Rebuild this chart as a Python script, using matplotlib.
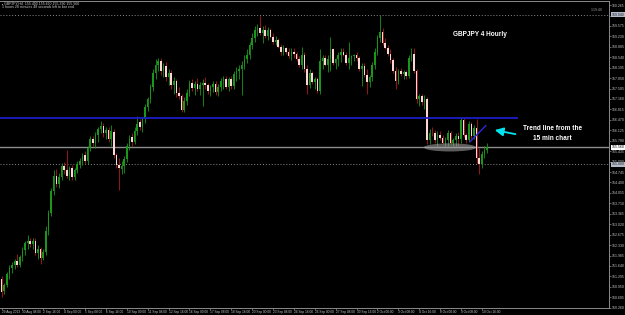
import numpy as np
import matplotlib
matplotlib.use("Agg")
import matplotlib.pyplot as plt
from matplotlib.patches import Ellipse

# GBPJPY H4 candles, oldest first
open_ = [151.21, 150.82, 151.01, 151.37, 151.57, 151.67, 151.80, 151.67, 151.93, 152.16,
         152.39, 152.48, 152.35, 152.48, 152.06, 152.19, 151.90, 152.09, 152.81, 153.40,
         154.12, 154.61, 154.35, 154.58, 154.94, 154.81, 154.61, 154.87, 154.58, 154.81,
         155.00, 155.10, 155.30, 155.10, 155.53, 155.85, 155.69, 155.98, 156.18, 156.28,
         156.02, 156.15, 155.85, 156.08, 155.30, 154.97, 154.84, 154.94, 155.16, 155.59,
         155.92, 155.75, 156.11, 156.41, 156.24, 156.51, 156.90, 157.16, 157.55, 158.01,
         158.27, 158.40, 158.08, 158.24, 157.88, 158.01, 157.62, 157.75, 157.36, 157.26,
         156.80, 157.10, 157.36, 157.68, 157.52, 157.65, 157.49, 157.62, 157.68, 157.62,
         157.42, 157.55, 157.65, 157.39, 157.55, 157.75, 157.81, 157.55, 157.81, 157.58,
         157.98, 158.08, 158.14, 158.27, 158.47, 158.63, 158.93, 159.19, 159.45, 159.51,
         159.35, 159.45, 159.25, 159.45, 159.22, 159.06, 159.12, 158.89, 158.73, 158.83,
         158.73, 158.57, 158.73, 158.66, 158.47, 158.27, 158.63, 158.14, 157.62, 158.01,
         157.72, 157.81, 157.42, 158.40, 158.53, 158.30, 158.47, 158.80, 158.34, 158.47,
         158.63, 158.73, 158.63, 158.34, 158.53, 158.57, 158.63, 158.50, 158.14, 158.24,
         157.95, 157.72, 157.88, 158.27, 158.73, 159.19, 159.38, 159.02, 158.86, 158.66,
         158.44, 158.08, 157.75, 158.08, 157.98, 158.04, 157.91, 158.53, 158.66, 158.08,
         157.16, 157.26, 157.06, 157.16, 155.79, 156.05, 156.02, 155.79, 155.98, 155.88,
         155.69, 155.82, 156.05, 155.72, 155.82, 155.95, 155.85, 156.47, 155.98, 155.82,
         156.34, 155.95, 156.21, 155.20, 155.00, 155.33, 155.49]
high = [151.31, 151.08, 151.44, 151.67, 151.77, 151.86, 152.03, 151.99, 152.26, 152.48,
        152.68, 152.58, 152.55, 152.58, 152.32, 152.26, 152.19, 152.97, 153.50, 154.22,
        154.81, 154.84, 154.71, 155.03, 155.07, 155.46, 154.94, 154.97, 154.87, 155.10,
        155.20, 155.36, 155.43, 155.59, 155.95, 155.95, 156.08, 156.24, 156.44, 156.38,
        156.24, 156.24, 156.31, 156.18, 155.36, 155.20, 155.10, 155.26, 155.69, 155.98,
        156.02, 156.24, 156.60, 156.51, 156.57, 157.00, 157.23, 157.65, 158.14, 158.47,
        158.53, 158.53, 158.34, 158.37, 158.14, 158.11, 157.88, 157.81, 157.55, 157.32,
        157.23, 157.49, 157.78, 157.81, 157.75, 157.85, 157.72, 157.81, 157.88, 157.68,
        157.62, 157.75, 157.75, 157.65, 157.85, 157.91, 157.91, 157.88, 157.91, 158.08,
        158.21, 158.30, 158.40, 158.60, 158.80, 159.06, 159.35, 159.58, 159.65, 159.91,
        159.58, 159.61, 159.55, 159.51, 159.35, 159.25, 159.19, 158.99, 158.93, 158.89,
        158.83, 158.86, 158.86, 158.73, 158.57, 158.89, 158.70, 158.27, 158.14, 158.08,
        157.88, 157.88, 158.80, 158.63, 158.60, 158.60, 159.22, 158.86, 158.53, 158.73,
        158.83, 158.83, 158.73, 159.06, 158.63, 158.66, 158.70, 158.57, 158.34, 158.34,
        158.14, 157.95, 158.37, 158.86, 159.29, 159.94, 159.51, 159.19, 158.93, 158.80,
        158.53, 158.21, 158.14, 158.17, 158.11, 158.11, 158.63, 158.86, 158.83, 158.14,
        157.32, 157.32, 157.29, 157.23, 156.18, 156.24, 156.15, 156.11, 156.11, 155.98,
        155.92, 156.15, 156.11, 155.88, 156.05, 156.08, 156.57, 156.54, 156.05, 156.44,
        156.41, 156.31, 156.51, 155.53, 155.43, 155.59, 155.69]
low = [150.62, 150.72, 150.95, 151.21, 151.41, 151.54, 151.60, 151.60, 151.80, 151.99,
       152.19, 152.26, 152.19, 151.99, 151.86, 151.70, 151.83, 151.99, 152.65, 153.30,
       153.99, 154.25, 154.22, 154.48, 154.67, 154.54, 154.48, 154.48, 154.48, 154.71,
       154.87, 154.97, 155.00, 155.00, 155.43, 155.59, 155.53, 155.75, 156.02, 155.92,
       155.85, 155.75, 155.62, 155.20, 154.87, 154.15, 154.67, 154.71, 155.07, 155.46,
       155.62, 155.66, 155.98, 156.15, 156.08, 156.38, 156.77, 157.03, 157.42, 157.81,
       158.08, 157.95, 157.88, 157.75, 157.62, 157.49, 157.32, 157.23, 157.16, 156.73,
       156.73, 156.96, 157.26, 157.42, 157.29, 157.42, 157.29, 156.93, 157.49, 157.32,
       157.26, 157.39, 157.29, 157.26, 157.42, 157.49, 157.49, 157.42, 157.49, 157.49,
       157.75, 157.81, 157.29, 158.14, 158.34, 158.47, 158.80, 159.06, 159.25, 159.29,
       159.02, 159.19, 159.12, 159.19, 158.99, 158.96, 158.83, 158.60, 158.60, 158.66,
       158.50, 158.44, 158.53, 158.40, 158.21, 158.14, 158.04, 157.32, 157.52, 157.65,
       157.49, 157.36, 157.32, 158.14, 158.24, 158.04, 158.08, 158.27, 158.14, 158.24,
       158.37, 158.57, 158.27, 158.14, 158.30, 158.40, 158.40, 158.08, 157.58, 157.88,
       157.32, 157.55, 157.75, 158.14, 158.63, 159.06, 158.96, 158.80, 158.57, 158.34,
       158.01, 157.49, 157.65, 157.91, 157.81, 157.81, 157.85, 158.40, 158.01, 157.03,
       156.93, 156.96, 156.83, 155.66, 155.66, 155.95, 155.72, 155.62, 155.82, 155.66,
       155.59, 155.62, 155.66, 155.62, 155.59, 155.59, 155.69, 155.92, 155.72, 155.75,
       155.85, 155.85, 155.03, 154.67, 154.87, 155.20, 155.39]
close_ = [150.78, 151.01, 151.37, 151.57, 151.67, 151.80, 151.67, 151.93, 152.16, 152.39,
          152.48, 152.35, 152.48, 152.06, 152.19, 151.90, 152.09, 152.81, 153.40, 154.12,
          154.61, 154.35, 154.58, 154.94, 154.81, 154.61, 154.87, 154.58, 154.81, 155.00,
          155.10, 155.26, 155.10, 155.53, 155.85, 155.69, 155.98, 156.18, 156.28, 156.02,
          156.15, 155.85, 156.11, 155.30, 154.97, 154.87, 154.94, 155.16, 155.59, 155.85,
          155.75, 156.11, 156.34, 156.24, 156.51, 156.90, 157.16, 157.55, 158.01, 158.27,
          158.40, 158.08, 158.24, 157.88, 158.01, 157.62, 157.75, 157.36, 157.26, 156.80,
          157.10, 157.36, 157.68, 157.52, 157.65, 157.49, 157.62, 157.68, 157.62, 157.42,
          157.55, 157.65, 157.39, 157.55, 157.75, 157.81, 157.55, 157.81, 157.58, 157.98,
          158.08, 158.14, 158.27, 158.47, 158.63, 158.93, 159.19, 159.45, 159.51, 159.35,
          159.45, 159.25, 159.45, 159.22, 159.06, 159.12, 158.89, 158.73, 158.83, 158.73,
          158.57, 158.73, 158.66, 158.47, 158.27, 158.63, 158.14, 157.62, 158.01, 157.72,
          157.81, 157.42, 158.40, 158.53, 158.30, 158.47, 158.80, 158.34, 158.47, 158.63,
          158.73, 158.63, 158.34, 158.53, 158.57, 158.63, 158.50, 158.14, 158.24, 157.95,
          157.72, 157.88, 158.27, 158.73, 159.19, 159.38, 159.02, 158.86, 158.66, 158.44,
          158.08, 157.75, 158.08, 157.98, 158.04, 157.91, 158.53, 158.66, 158.08, 157.16,
          157.26, 157.06, 157.16, 155.79, 156.05, 156.02, 155.79, 155.98, 155.88, 155.69,
          155.82, 156.05, 155.72, 155.82, 155.95, 155.85, 156.47, 155.98, 155.82, 156.34,
          155.95, 156.21, 155.20, 155.00, 155.33, 155.49, 155.56]

# axis labels
price_ticks = [150.260, 150.605, 150.950, 151.295, 151.640, 151.985, 152.330, 152.675,
               153.020, 153.365, 153.710, 154.055, 154.400, 154.745, 155.090, 155.435,
               155.780, 156.125, 156.470, 156.815, 157.160, 157.505, 157.850, 158.195,
               158.540, 158.885, 159.230, 159.575, 159.920, 160.265]
time_tick_bars = [0, 8, 16, 24, 32, 40, 48, 56, 64, 72, 80, 88, 96, 104, 112, 120,
                  128, 136, 144, 152, 160, 168, 176, 184]
time_labels = ["29 Aug 2013", "30 Aug 08:00", "2 Sep 16:00", "4 Sep 00:00", "5 Sep 08:00",
               "6 Sep 16:00", "10 Sep 00:00", "11 Sep 08:00", "12 Sep 16:00", "16 Sep 00:00",
               "17 Sep 08:00", "18 Sep 16:00", "20 Sep 00:00", "23 Sep 08:00", "24 Sep 16:00",
               "26 Sep 00:00", "27 Sep 08:00", "30 Sep 16:00", "2 Oct 00:00", "3 Oct 08:00",
               "4 Oct 16:00", "8 Oct 00:00", "9 Oct 08:00", "10 Oct 16:00"]

# drawn objects on the chart
level_top = 159.94      # dotted line at the high
level_blue = 156.54     # blue horizontal line
level_bid = 155.56      # bid line
level_low = 155.00      # dotted line below
trend_x = [179.5, 185.5]
trend_y = [155.75, 156.28]

bull_col = "#1a961a"
bear_body = "#ffd4d4"
bear_wick = "#b01a1a"
small_font = "Liberation Sans"


def main():
    fig = plt.figure(figsize=(6.25, 3.15), dpi=100, facecolor="black")
    ax = fig.add_axes([0.0, 7 / 315, 609 / 625, 307 / 315])
    ax.set_facecolor("black")

    o = np.array(open_)
    h = np.array(high)
    l = np.array(low)
    c = np.array(close_)
    x = np.arange(len(c))
    up = c >= o

    # candles
    ax.vlines(x[up], l[up], h[up], color=bull_col, lw=0.6, zorder=2)
    ax.vlines(x[~up], l[~up], h[~up], color=bear_wick, lw=0.6, zorder=2)
    ax.bar(x[up], c[up] - o[up], bottom=o[up], width=0.6, color=bull_col,
           linewidth=0, zorder=3)
    ax.bar(x[~up], o[~up] - c[~up], bottom=c[~up], width=0.6, color=bear_body,
           linewidth=0, zorder=3)

    # horizontal lines
    ax.axhline(level_top, color="#8a8a8a", lw=0.7, ls=(0, (1, 2)), zorder=1)
    ax.axhline(level_low, color="#8a8a8a", lw=0.7, ls=(0, (1, 2)), zorder=1)
    ax.axhline(level_bid, color="#8c8c8c", lw=1.0, zorder=1)
    ax.hlines(level_blue, -1, 197.9, color="#1c1cc8", lw=1.3, zorder=4)

    # trend line from the 15 min chart + grey ellipse
    ax.plot(trend_x, trend_y, color="#2a2ae0", lw=1.0, zorder=5)
    ax.add_patch(Ellipse((171.8, 155.56), 20, 0.27, facecolor="#a8a8a8",
                         edgecolor="none", alpha=0.55, zorder=4))
    ax.annotate("", xy=(187.9, 156.15), xytext=(197.9, 155.98),
                arrowprops=dict(arrowstyle="-|>,head_length=0.5,head_width=0.25",
                                color="#00e5ee", lw=1.3), zorder=6)

    ax.text(183.3, 159.29, "GBPJPY 4 Hourly", color="white", fontsize=4.7,
            fontweight="bold", family="Liberation Sans", ha="center", va="center")
    ax.text(210.9, 156.02, "Trend line from the\n15 min chart", color="white",
            fontsize=4.7, fontweight="bold", family="Liberation Sans",
            ha="center", va="center", linespacing=1.45)

    ax.set_xlim(-0.575, 232.7)
    ax.set_ylim(150.25, 160.40)

    # price scale on the right
    ax.yaxis.tick_right()
    ax.set_yticks(price_ticks)
    ax.set_yticklabels([f"{p:.3f}" for p in price_ticks], family=small_font)
    ax.tick_params(axis="y", colors="#8a8a8a", labelcolor="#c8c8c8", labelsize=2.5,
                   length=1.5, width=0.5, pad=0.8)
    ax.set_xticks(time_tick_bars)
    ax.set_xticklabels(time_labels, ha="left", family=small_font)
    ax.tick_params(axis="x", colors="#8a8a8a", labelcolor="#c8c8c8", labelsize=2.3,
                   length=1.2, width=0.5, pad=0.3)

    ax.spines["left"].set_visible(False)
    for side in ["right", "bottom", "top"]:
        ax.spines[side].set_color("#8a8a8a")
        ax.spines[side].set_linewidth(0.7)

    # highlighted price labels of the lines
    ytr = ax.get_yaxis_transform()
    for lvl, fc, tc in [(level_top, "#b4bccc", "#202020"),
                        (level_low, "#b4bccc", "#202020"),
                        (level_bid, "white", "black")]:
        ax.text(1.004, lvl, f"{lvl:.3f}", transform=ytr, fontsize=2.5, color=tc,
                family=small_font, va="center", ha="left", clip_on=False, zorder=10,
                bbox=dict(boxstyle="square,pad=0.12", fc=fc, ec="none"))

    # header texts
    fig.text(2 / 625, 1 - 3.5 / 315, "\u25aa GBPJPY,H4  155.490 155.690 155.390 155.560",
             color="#d0d0d0", fontsize=2.5, va="center", family=small_font)
    fig.text(2 / 625, 1 - 7.5 / 315, "1 hours 28 minutes 48 seconds left to bar end",
             color="#d0d0d0", fontsize=2.5, va="center", family=small_font)
    fig.text(603 / 625, 1 - 10 / 315, "1:19:40", color="#9a9a9a", fontsize=2.5,
             va="center", ha="right", family=small_font)

    fig.savefig("out.png", dpi=100, facecolor="black")
    plt.close(fig)


if __name__ == "__main__":
    main()
